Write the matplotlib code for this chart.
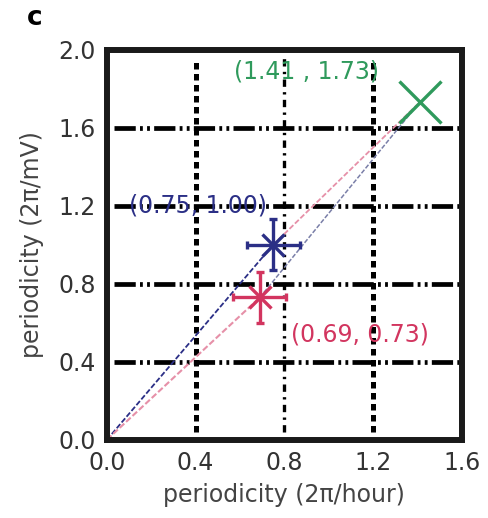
import numpy as np
import matplotlib
matplotlib.use('Agg')
import matplotlib.pyplot as plt

# values
pt_names = ['green', 'blue', 'red']
pt_x = [1.41, 0.75, 0.69]
pt_y = [1.73, 1.00, 0.73]
pt_labels = ['(1.41 , 1.73)', '(0.75, 1.00)', '(0.69, 0.73)']
err_x = [0.0, 0.12, 0.12]
err_y = [0.0, 0.13, 0.13]
label_pos = [(0.90, 1.89), (0.41, 1.20), (1.14, 0.54)]

x_ticks = [0.0, 0.4, 0.8, 1.2, 1.6]
y_ticks = [0.0, 0.4, 0.8, 1.2, 1.6, 2.0]
hgrid = [0.4, 0.8, 1.2, 1.6]
vgrid = [0.4, 0.8, 1.2]

c_green = '#2f9a5c'
c_blue = '#2b2f86'
c_red = '#d2355f'
c_pink = '#e690a8'

fig = plt.figure(figsize=(4.88, 5.18), dpi=100)
ax = fig.add_axes([0.219, 0.151, 0.727, 0.753])
ax.set_xlim(0, 1.6)
ax.set_ylim(0, 2.0)

# grid lines, drawn by hand to get the odd dash patterns
for y in hgrid:
    ax.axhline(y, color='black', lw=3.4, xmin=0.02,
               linestyle=(0, (4.5, 0.9, 0.6, 0.9, 0.6, 0.9)), zorder=1)
for x in vgrid:
    if x == 0.8:
        ax.axvline(x, color='black', lw=2.4, ymin=0.02, ymax=0.98,
                   linestyle=(0, (2.2, 1.6, 0.7, 1.6)), zorder=1)
    else:
        ax.axvline(x, color='black', lw=3.6, ymin=0.02, ymax=0.98,
                   linestyle=(0, (1.3, 0.9)), zorder=1)

# connecting lines
gx, gy = pt_x[0], pt_y[0]
bx, by = pt_x[1], pt_y[1]
rx, ry = pt_x[2], pt_y[2]
ax.plot([0, bx], [0, by], color=c_blue, lw=1.3, ls=(0, (3, 1.2)), zorder=2)
ax.plot([0, rx], [0, ry], color=c_pink, lw=1.5, ls=(0, (3, 1.2)), zorder=2)
ax.plot([bx, gx], [by, gy], color=c_pink, lw=1.3, ls=(0, (3, 1.2)), zorder=2)
ax.plot([rx, gx], [ry, gy], color='#7a7fa8', lw=1.1, ls=(0, (3, 1.2)), zorder=2)

# markers
ax.plot(gx, gy, marker='x', ms=30, mew=2.4, color=c_green, zorder=4)
ax.errorbar(bx, by, xerr=err_x[1], yerr=err_y[1], fmt='x', ms=16, mew=2.4,
            color=c_blue, elinewidth=2.4, capsize=3, zorder=4)
ax.errorbar(rx, ry, xerr=err_x[2], yerr=err_y[2], fmt='x', ms=16, mew=2.4,
            color=c_red, elinewidth=2.4, capsize=3, zorder=4)

for (lx, ly), txt, col in zip(label_pos, pt_labels, [c_green, c_blue, c_red]):
    ax.text(lx, ly, txt, color=col, fontsize=17, ha='center', va='center', zorder=5)

for s in ax.spines.values():
    s.set_linewidth(4.3)
    s.set_color('#1a1a1a')

ax.set_xticks(x_ticks)
ax.set_yticks(y_ticks)
ax.set_xticklabels([f'{v:.1f}' for v in x_ticks])
ax.set_yticklabels([f'{v:.1f}' for v in y_ticks])
ax.tick_params(length=0, labelsize=17, labelcolor='#333333', pad=8)

ax.set_xlabel('periodicity (2π/hour)', fontsize=17, color='#444444', labelpad=6)
ax.set_ylabel('periodicity (2π/mV)', fontsize=17, color='#444444', labelpad=10)

fig.text(0.072, 0.965, 'c', fontsize=19, fontweight='bold', ha='center', va='center')

fig.savefig('out.png', dpi=100)
